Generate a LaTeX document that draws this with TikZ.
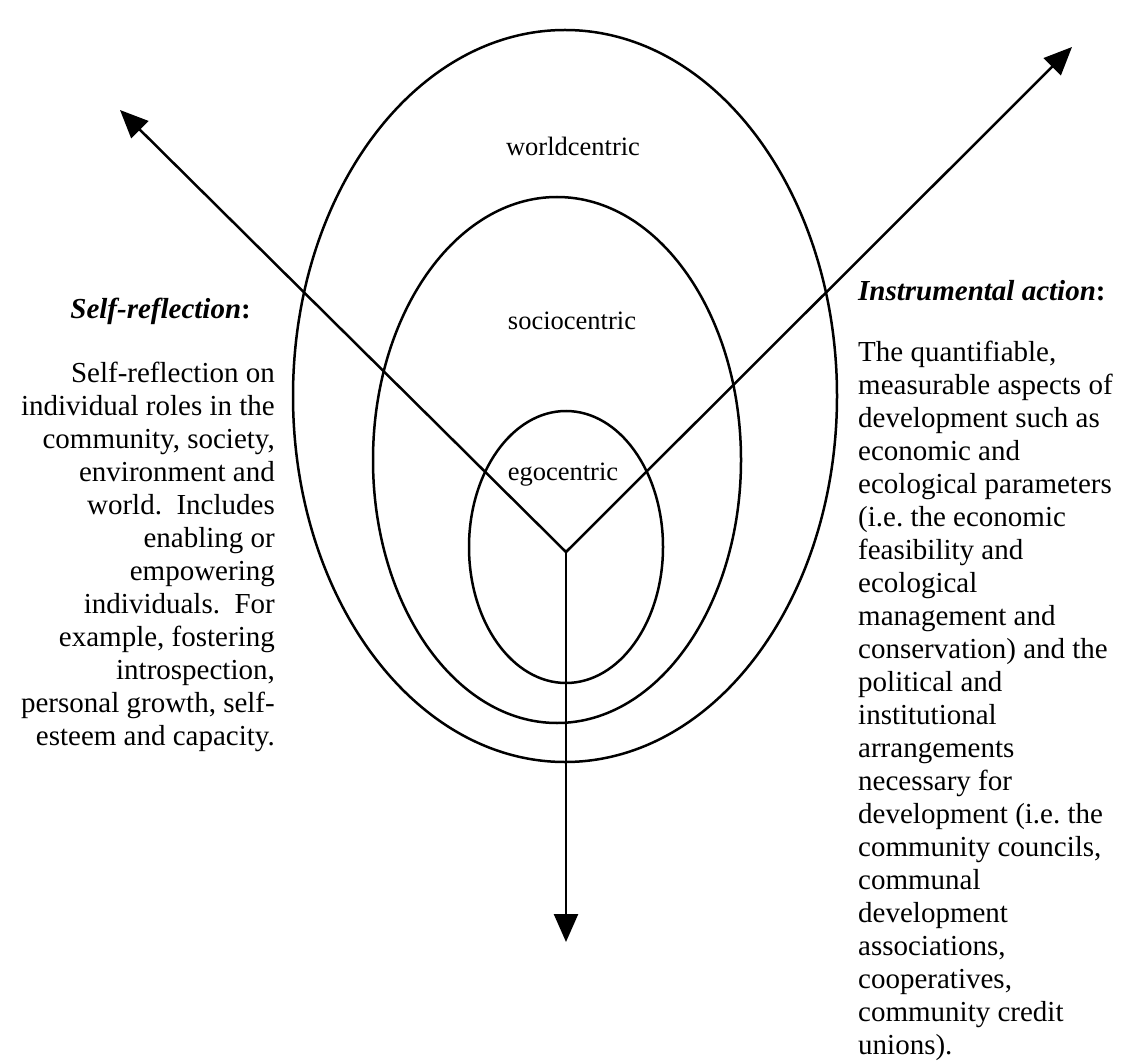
\documentclass[tikz,border=0pt]{standalone}
\usepackage{fontspec}
\setmainfont{Liberation Serif}
\usetikzlibrary{arrows.meta}
\begin{document}
\begin{tikzpicture}[x=1pt,y=-1pt,
  ring/.style={line width=2.5pt},
  ray/.style={line width=2.5pt,-{Triangle[length=28pt,width=24pt]}},
  zone/.style={font=\fontsize{26.5}{30}\selectfont, inner sep=0pt},
  body/.style={font=\fontsize{29}{33}\selectfont, inner sep=0pt},
]
\useasboundingbox (0,0) rectangle (1124,1064);
\fill[white] (0,0) rectangle (1124,1064);
% nested spheres
\draw[ring] (565,396) ellipse [x radius=272, y radius=366];
\draw[ring] (557,460) ellipse [x radius=184, y radius=263];
\draw[ring] (566,547) ellipse [x radius=97, y radius=136];
% hub and arrow ends
\coordinate (hub) at (566,552);
\coordinate (nw) at (120,110);
\coordinate (ne) at (1072,47);
\coordinate (so) at (566,942);
\draw[ray] (hub) -- (nw);
\draw[ray] (hub) -- (ne);
\draw[ray] (hub) -- (so);
% zone labels
\node[zone] (world) at (573,146) {worldcentric};
\node[zone] (socio) at (572,321) {sociocentric};
\node[zone] (ego) at (563,475) {egocentric};
% left text
\node[body, anchor=east] (srhead) at (251,311) {\textbf{\textit{Self-reflection}:}};
\node[body, anchor=north east, align=right] (srtext) at (275,362) {Self-reflection on\\
individual roles in the\\
community, society,\\
environment and\\
world.\ \ Includes\\
enabling or\\
empowering\\
individuals.\ \ For\\
example, fostering\\
introspection,\\
personal growth, self-\\
esteem and capacity.};
% right text
\node[body, anchor=west] (iahead) at (858,291) {\textbf{\textit{Instrumental action}:}};
\node[body, anchor=north west, align=left] (iatext) at (858,341) {The quantifiable,\\
measurable aspects of\\
development such as\\
economic and\\
ecological parameters\\
(i.e.\ the economic\\
feasibility and\\
ecological\\
management and\\
conservation) and the\\
political and\\
institutional\\
arrangements\\
necessary for\\
development (i.e.\ the\\
community councils,\\
communal\\
development\\
associations,\\
cooperatives,\\
community credit\\
unions).};
\end{tikzpicture}
\end{document}
